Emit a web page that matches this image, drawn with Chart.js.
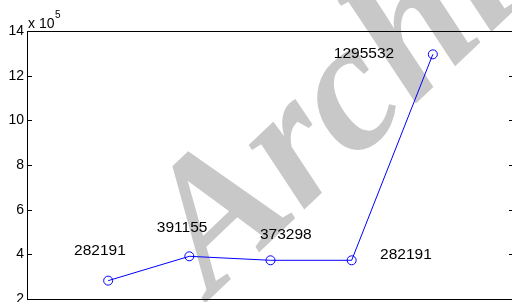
<!DOCTYPE html>
<html>
<head>
<meta charset="utf-8">
<script src="https://cdn.jsdelivr.net/npm/chart.js@4"></script>
<style>
  html, body { margin: 0; padding: 0; background: #fff; overflow: hidden; }
  #wrap { width: 540px; height: 330px; }
</style>
</head>
<body>
<div id="wrap"><canvas id="myChart" width="540" height="330"></canvas></div>
<script>
// x positions of the points and their values
const xValues = [1, 2, 3, 4, 5];
const yValues = [282191, 391155, 373298, 373298, 1295532];

// text labels as they appear on the plot (placed in data units)
const labelTexts = ['282191', '391155', '373298', '282191', '1295532'];
const labelX = [0.58, 1.60, 2.87, 4.35, 3.78];
const labelY = [415000, 520000, 487000, 397000, 1297000];

// y ticks, shown divided by 10^5
const yTicks = [200000, 400000, 600000, 800000, 1000000, 1200000, 1400000];

const watermarkText = 'Archive';

const points = xValues.map((x, i) => ({ x: x, y: yValues[i] }));

// white background + grey watermark behind everything
const backdrop = {
    id: 'backdrop',
    beforeDraw(chart) {
        const ctx = chart.ctx;
        ctx.save();
        ctx.fillStyle = '#fff';
        ctx.fillRect(0, 0, chart.width, chart.height);
        ctx.translate(212, 297);
        ctx.rotate(-43.5 * Math.PI / 180);
        ctx.fillStyle = '#c8c8c8';
        ctx.font = 'italic bold 185px "Liberation Serif"';
        ctx.textBaseline = 'alphabetic';
        ctx.fillText(watermarkText, 0, 0);
        ctx.restore();
    }
};

// box around the axes and inward ticks on left and right
const axesBox = {
    id: 'axesBox',
    beforeDatasetsDraw(chart) {
        const ctx = chart.ctx;
        const a = chart.chartArea;
        const yScale = chart.scales.y;
        ctx.save();
        ctx.strokeStyle = '#000';
        ctx.lineWidth = 1;
        ctx.strokeRect(Math.round(a.left) + 0.5, Math.round(a.top) + 0.5,
            Math.round(a.right - a.left), Math.round(a.bottom - a.top));
        ctx.beginPath();
        yTicks.forEach(v => {
            const py = Math.round(yScale.getPixelForValue(v)) + 0.5;
            ctx.moveTo(a.left, py);
            ctx.lineTo(a.left + 5, py);
            ctx.moveTo(a.right, py);
            ctx.lineTo(a.right - 5, py);
        });
        ctx.stroke();

        // exponent note
        ctx.fillStyle = '#000';
        ctx.textBaseline = 'alphabetic';
        ctx.font = '14px "Liberation Sans", Arial';
        ctx.fillText('x 10', a.left + 1, a.top - 3);
        ctx.font = '10px "Liberation Sans", Arial';
        ctx.fillText('5', a.left + 28, a.top - 13);
        ctx.restore();
    },
    afterDatasetsDraw(chart) {
        const ctx = chart.ctx;
        const xs = chart.scales.x;
        const ys = chart.scales.y;
        ctx.save();
        ctx.fillStyle = '#000';
        ctx.font = '15.5px "Liberation Sans", Arial';
        ctx.textAlign = 'left';
        ctx.textBaseline = 'middle';
        labelTexts.forEach((t, i) => {
            ctx.fillText(t, xs.getPixelForValue(labelX[i]), ys.getPixelForValue(labelY[i]));
        });
        ctx.restore();
    }
};

const myChart = new Chart(document.getElementById('myChart'), {
    type: 'scatter',
    data: {
        datasets: [{
            data: points,
            showLine: true,
            borderColor: '#0000ff',
            borderWidth: 1,
            pointStyle: 'circle',
            pointRadius: 4.5,
            pointBorderWidth: 1,
            pointBorderColor: '#0000ff',
            pointBackgroundColor: 'rgba(0,0,0,0)',
            tension: 0
        }]
    },
    options: {
        responsive: false,
        devicePixelRatio: 1,
        animation: false,
        layout: { padding: { left: 0, top: 31, right: 26, bottom: 31 } },
        plugins: {
            legend: { display: false },
            tooltip: { enabled: false }
        },
        scales: {
            x: {
                type: 'linear',
                min: 0,
                max: 6,
                display: false
            },
            y: {
                type: 'linear',
                min: 200000,
                max: 1400000,
                afterFit(scale) { scale.width = 27; },
                grid: { display: false, drawTicks: false },
                border: { display: false },
                afterBuildTicks(scale) {
                    scale.ticks = yTicks.map(v => ({ value: v }));
                },
                ticks: {
                    padding: 3,
                    color: '#000',
                    font: { family: '"Liberation Sans", Arial', size: 14 },
                    callback: v => v / 100000
                }
            }
        }
    },
    plugins: [backdrop, axesBox]
});
</script>
</body>
</html>
